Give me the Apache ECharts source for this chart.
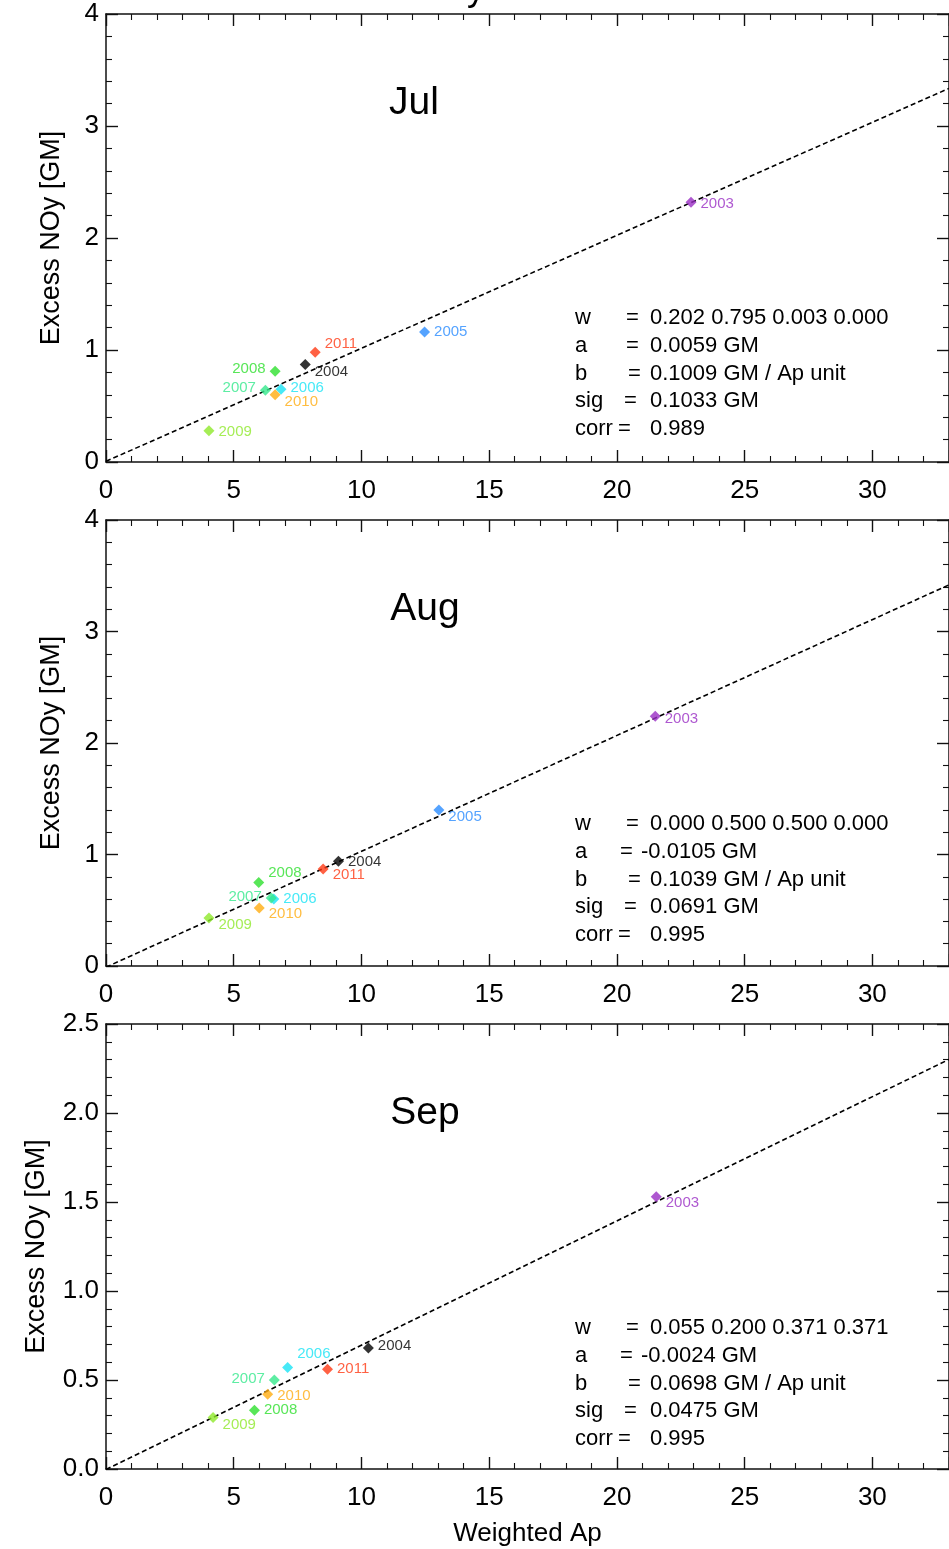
<!DOCTYPE html>
<html>
<head>
<meta charset="utf-8">
<script src="https://cdn.jsdelivr.net/npm/echarts@6/dist/echarts.min.js"></script>
<style>
  html, body { margin: 0; padding: 0; background: #fff; }
  #chart { width: 949px; height: 1549px; }
</style>
</head>
<body>
<div id="chart"></div>
<script>
// ---- data ----
const months = ['Jul', 'Aug', 'Sep'];
const years = ['2003', '2004', '2005', '2006', '2007', '2008', '2009', '2010', '2011'];

// weighted Ap and excess NOy [GM] per year (same order as `years`), null = no value
const julAp  = [22.9, 7.80, 12.47, 6.85, 6.24, 6.62, 4.03, 6.62, 8.19];
const julNOy = [2.32, 0.87, 1.16, 0.65, 0.64, 0.81, 0.28, 0.60, 0.98];
const augAp  = [21.5, 9.10, 13.03, 6.57, 6.47, 5.98, 4.03, 6.00, 8.50];
const augNOy = [2.24, 0.94, 1.40, 0.60, 0.61, 0.75, 0.43, 0.52, 0.87];
const sepAp  = [21.54, 10.27, null, 7.11, 6.59, 5.81, 4.19, 6.33, 8.67];
const sepNOy = [1.53, 0.68, null, 0.57, 0.50, 0.33, 0.29, 0.42, 0.56];

// linear fit per month: NOy = a + b * Ap
const fitW    = [[0.202, 0.795, 0.003, 0.000], [0.000, 0.500, 0.500, 0.000], [0.055, 0.200, 0.371, 0.371]];
const fitA    = [0.0059, -0.0105, -0.0024];
const fitB    = [0.1009, 0.1039, 0.0698];
const fitSig  = [0.1033, 0.0691, 0.0475];
const fitCorr = [0.989, 0.995, 0.995];

// axes
const xMax = 33, xStep = 5;
const yMax = [4, 4, 2.5];
const yStep = [1, 1, 0.5];
const yDigits = [0, 0, 1];

// ---- styling / layout ----
const yearColor = {
  '2003': '#9a2ec4', '2004': '#000000', '2005': '#2a8cff', '2006': '#19e3f5',
  '2007': '#35e88c', '2008': '#2ee02e', '2009': '#8ee82a', '2010': '#ffad12', '2011': '#ff3a14'
};
// label side and vertical nudge of each year tag, per panel
const tagPlace = [
  { '2003': ['right', 2], '2004': ['right', 7], '2005': ['right', 0], '2006': ['right', -1], '2007': ['left', -2],
    '2008': ['left', -2], '2009': ['right', 1], '2010': ['right', 7], '2011': ['right', -8] },
  { '2003': ['right', 3], '2004': ['right', 1], '2005': ['right', 7], '2006': ['right', 0], '2007': ['left', -1],
    '2008': ['right', -10], '2009': ['right', 7], '2010': ['right', 6], '2011': ['right', 6] },
  { '2003': ['right', 6], '2004': ['right', -2], '2005': ['right', 0], '2006': ['right', -14], '2007': ['left', -1],
    '2008': ['right', 0], '2009': ['right', 7], '2010': ['right', 2], '2011': ['right', 0] }
];
const panelTop = [14, 520, 1024];
const panelHeight = [448, 446, 445];
const plotLeft = 106, plotWidth = 846;
const monthX = [414, 425, 425];
const yNameGap = [41, 41, 56];
const FONT = '"Liberation Sans", Arial, Helvetica, sans-serif';
const INK = '#111';

const apSets = [julAp, augAp, sepAp];
const noySets = [julNOy, augNOy, sepNOy];

const grids = [], xAxes = [], yAxes = [], series = [], graphics = [];

function tickCfg(pos) {
  return {
    axisLine: { show: true, onZero: false, lineStyle: { color: INK, width: 1.5 } },
    axisTick: { show: true, inside: true, length: 12, lineStyle: { color: INK, width: 1.4 } },
    minorTick: { show: true, splitNumber: 5, length: 6, lineStyle: { color: INK, width: 1.1 } },
    splitLine: { show: false },
    position: pos
  };
}

months.forEach((m, i) => {
  grids.push({ left: plotLeft, top: panelTop[i], width: plotWidth, height: panelHeight[i] });

  // bottom x axis with labels, top x axis ticks only
  xAxes.push(Object.assign(tickCfg('bottom'), {
    gridIndex: i, type: 'value', min: 0, max: xMax, interval: xStep,
    name: i === 2 ? 'Weighted Ap' : '', nameLocation: 'middle', nameGap: 52,
    nameTextStyle: { fontFamily: FONT, fontSize: 26, color: '#000' },
    axisLabel: { show: true, fontFamily: FONT, fontSize: 26, color: '#000', margin: 16, showMaxLabel: false }
  }));
  xAxes.push(Object.assign(tickCfg('top'), {
    gridIndex: i, type: 'value', min: 0, max: xMax, interval: xStep,
    axisLabel: { show: false }
  }));

  // left y axis with labels, right y axis ticks only
  yAxes.push(Object.assign(tickCfg('left'), {
    gridIndex: i, type: 'value', min: 0, max: yMax[i], interval: yStep[i],
    name: 'Excess NOy [GM]', nameLocation: 'middle', nameGap: yNameGap[i],
    nameTextStyle: { fontFamily: FONT, fontSize: 27, color: '#000' },
    axisLabel: { show: true, fontFamily: FONT, fontSize: 26, color: '#000', margin: 7,
      formatter: v => v.toFixed(yDigits[i]) }
  }));
  yAxes.push(Object.assign(tickCfg('right'), {
    gridIndex: i, type: 'value', min: 0, max: yMax[i], interval: yStep[i],
    axisLabel: { show: false }
  }));

  // fit line from a and b
  series.push({
    type: 'line', xAxisIndex: 2 * i, yAxisIndex: 2 * i, symbol: 'none', silent: true,
    clip: true, z: 2,
    lineStyle: { color: '#000', width: 1.6, type: [5, 3] },
    data: [[0, fitA[i]], [xMax, fitA[i] + fitB[i] * xMax]]
  });

  // yearly points
  const pts = [];
  years.forEach((yr, k) => {
    const ap = apSets[i][k], v = noySets[i][k];
    if (ap == null || v == null) return;
    const place = tagPlace[i][yr];
    pts.push({
      name: yr, value: [ap, v],
      itemStyle: { color: yearColor[yr] },
      label: { position: place[0], offset: [0, place[1]], color: yearColor[yr] }
    });
  });
  series.push({
    type: 'scatter', xAxisIndex: 2 * i, yAxisIndex: 2 * i, symbol: 'diamond', symbolSize: 11, z: 3,
    label: { show: true, formatter: p => p.name, fontFamily: FONT, fontSize: 15, distance: 4 },
    data: pts
  });

  // month title
  graphics.push({
    type: 'text', z: 10,
    style: { text: m, x: monthX[i], y: panelTop[i] + 89, font: '39px ' + FONT, fill: '#000',
      align: 'center', verticalAlign: 'middle' }
  });

  // fit summary
  const neg = fitA[i] < 0;
  const rows = [
    ['w', 626, fitW[i].map(x => x.toFixed(3)).join(' '), 650],
    ['a', neg ? 620 : 626, fitA[i].toFixed(4) + ' GM', neg ? 641 : 650],
    ['b', 628, fitB[i].toFixed(4) + ' GM / Ap unit', 650],
    ['sig', 624, fitSig[i].toFixed(4) + ' GM', 650],
    ['corr', 618, fitCorr[i].toFixed(3), 650]
  ];
  rows.forEach((r, j) => {
    const y = panelTop[i] + 304 + j * 27.8;
    graphics.push({ type: 'text', z: 10, style: { text: r[0], x: 575, y, font: '22px ' + FONT, fill: '#000', verticalAlign: 'middle' } });
    graphics.push({ type: 'text', z: 10, style: { text: '=', x: r[1], y, font: '22px ' + FONT, fill: '#000', verticalAlign: 'middle' } });
    graphics.push({ type: 'text', z: 10, style: { text: r[2], x: r[3], y, font: '22px ' + FONT, fill: '#000', verticalAlign: 'middle' } });
  });
});

// tail of the page heading that runs past the top edge
graphics.push({
  type: 'text', z: 10,
  style: { text: 'y', x: 476, y: -10, font: '36px ' + FONT, fill: '#000', align: 'center', verticalAlign: 'middle' }
});

const chart = echarts.init(document.getElementById('chart'), null, { renderer: 'canvas' });
chart.setOption({
  animation: false,
  backgroundColor: '#fff',
  grid: grids,
  xAxis: xAxes,
  yAxis: yAxes,
  series: series,
  graphic: graphics
});
</script>
</body>
</html>
